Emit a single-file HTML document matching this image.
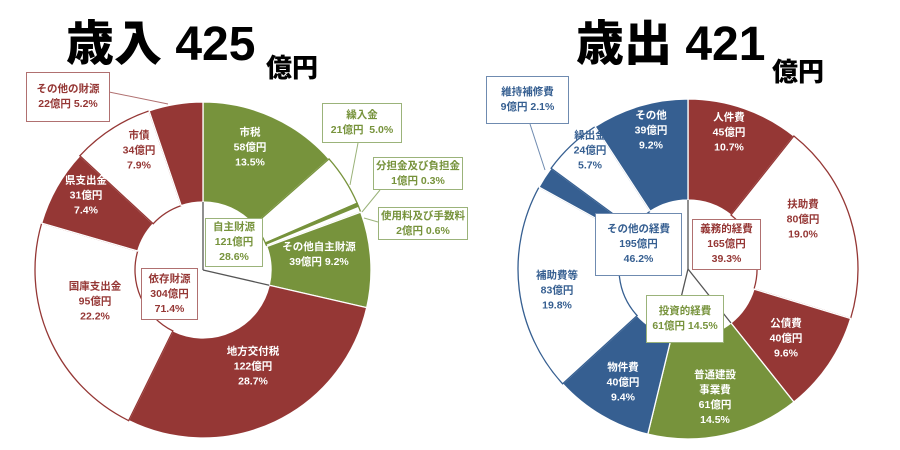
<!DOCTYPE html>
<html><head><meta charset="utf-8"><style>
body{margin:0;width:900px;height:450px;background:#fff;overflow:hidden;position:relative;font-family:"Liberation Sans","Noto Sans CJK JP",sans-serif;}
.t{position:absolute;font-weight:900;color:#000;white-space:nowrap;transform-origin:0 0;}
.l{position:absolute;font-size:10.5px;font-weight:bold;text-align:center;line-height:15px;white-space:nowrap;transform:translate(-50%,-50%);}
.w{color:#fff}.r{color:#953735}.g{color:#77933c}.b{color:#365f91}
.bx{position:absolute;background:#fff;border:1.5px solid;font-size:10.5px;font-weight:bold;text-align:center;line-height:15px;box-sizing:border-box;display:flex;flex-direction:column;justify-content:center;white-space:nowrap;overflow:hidden;}
</style></head><body>
<svg id="s" width="900" height="450" style="position:absolute;left:0;top:0"></svg>
<div class="t" style="left:66px;top:4px;font-size:48px;">歳入 425</div>
<div class="t" style="left:266px;top:48px;font-size:26px;">億円</div>
<div class="t" style="left:576px;top:4px;font-size:48px;">歳出 421</div>
<div class="t" style="left:772px;top:52px;font-size:26px;">億円</div>

<div class="l w" style="left:250px;top:148px">市税<br>58億円<br>13.5%</div>
<div class="l r" style="left:139px;top:151px">市債<br>34億円<br>7.9%</div>
<div class="l w" style="left:86px;top:196px">県支出金<br>31億円<br>7.4%</div>
<div class="l r" style="left:95px;top:302px">国庫支出金<br>95億円<br>22.2%</div>
<div class="l w" style="left:253px;top:367px">地方交付税<br>122億円<br>28.7%</div>
<div class="l w" style="left:319px;top:255px">その他自主財源<br>39億円 9.2%</div>

<div class="bx r" style="left:26px;top:72px;width:84px;height:50px;border-color:#b07070">その他の財源<span>22億円 5.2%</span></div>
<div class="bx g" style="left:322px;top:103px;width:80px;height:40px;border-color:#9bb37a">繰入金<span>21億円&nbsp; 5.0%</span></div>
<div class="bx g" style="left:373px;top:157px;width:90px;height:33px;border-color:#9bb37a">分担金及び負担金<span>1億円 0.3%</span></div>
<div class="bx g" style="left:378px;top:207px;width:90px;height:33px;border-color:#9bb37a">使用料及び手数料<span>2億円 0.6%</span></div>
<div class="bx g" style="left:205px;top:218px;width:58px;height:49px;border-color:#9bb37a">自主財源<span>121億円</span><span>28.6%</span></div>
<div class="bx r" style="left:141px;top:268px;width:57px;height:52px;border-color:#b07070">依存財源<span>304億円</span><span>71.4%</span></div>

<div class="l w" style="left:651px;top:131px">その他<br>39億円<br>9.2%</div>
<div class="l b" style="left:590px;top:151px">繰出金<br>24億円<br>5.7%</div>
<div class="l w" style="left:729px;top:133px">人件費<br>45億円<br>10.7%</div>
<div class="l r" style="left:803px;top:220px">扶助費<br>80億円<br>19.0%</div>
<div class="l b" style="left:557px;top:291px">補助費等<br>83億円<br>19.8%</div>
<div class="l w" style="left:786px;top:339px">公債費<br>40億円<br>9.6%</div>
<div class="l w" style="left:623px;top:383px">物件費<br>40億円<br>9.4%</div>
<div class="l w" style="left:715px;top:398px">普通建設<br>事業費<br>61億円<br>14.5%</div>

<div class="bx b" style="left:486px;top:76px;width:83px;height:48px;border-color:#6f8bb0">維持補修費<span>9億円 2.1%</span></div>
<div class="bx b" style="left:595px;top:213px;width:87px;height:63px;border-color:#6f8bb0">その他の経費<span>195億円</span><span>46.2%</span></div>
<div class="bx r" style="left:692px;top:219px;width:69px;height:51px;border-color:#b07070">義務的経費<span>165億円</span><span>39.3%</span></div>
<div class="bx g" style="left:646px;top:295px;width:78px;height:48px;border-color:#9bb37a">投資的経費<span>61億円 14.5%</span></div>

<script>
var s=document.getElementById('s'),NS='http://www.w3.org/2000/svg';
function el(t,a){var e=document.createElementNS(NS,t);for(var k in a)e.setAttribute(k,a[k]);s.appendChild(e);return e;}
function pt(cx,cy,r,f){var a=f*2*Math.PI;return [cx+r*Math.sin(a),cy-r*Math.cos(a)];}
function donut(cx,cy,R,r,data){var acc=0;data.forEach(function(d){var a0=acc/100,a1=(acc+d[0])/100;acc+=d[0];
var p0=pt(cx,cy,R,a0),p1=pt(cx,cy,R,a1),q1=pt(cx,cy,r,a1),q0=pt(cx,cy,r,a0),lg=(a1-a0)>0.5?1:0;
el('path',{d:'M'+p0+'A'+R+','+R+' 0 '+lg+' 1 '+p1+'L'+q1+'A'+r+','+r+' 0 '+lg+' 0 '+q0+'Z',fill:d[1],stroke:d[2],'stroke-width':1.3});});}
var G='#77933c',R='#953735',B='#365f91',W='#fff';
donut(203,270,168,68,[[13.5,G,W],[5.0,W,G],[0.3,G,G],[0.6,W,G],[9.2,G,W],[28.7,R,W],[22.2,W,R],[7.4,R,W],[7.9,W,R],[5.2,R,W]]);
donut(688,269,170,69,[[10.7,R,W],[19.0,W,R],[9.6,R,W],[14.5,G,W],[9.4,B,W],[19.8,W,B],[2.1,B,W],[5.7,W,B],[9.2,B,W]]);
function ln(cx,cy,r,f){var p=pt(cx,cy,r,f);el('line',{x1:cx,y1:cy,x2:p[0],y2:p[1],stroke:'#555','stroke-width':1.3});}
ln(203,270,68,0);ln(203,270,68,0.286);
ln(688,269,69,0);ln(688,269,69,0.393);ln(688,269,69,0.538);
function ld(x1,y1,x2,y2,c){el('line',{x1:x1,y1:y1,x2:x2,y2:y2,stroke:c,'stroke-width':1});}
ld(109,92,168,104,'#b07070');ld(358,143,350,185,'#9bb37a');ld(380,190,362,212,'#9bb37a');ld(378,222,364,218,'#9bb37a');
ld(530,124,545,170,'#6f8bb0');
</script>
</body></html>
